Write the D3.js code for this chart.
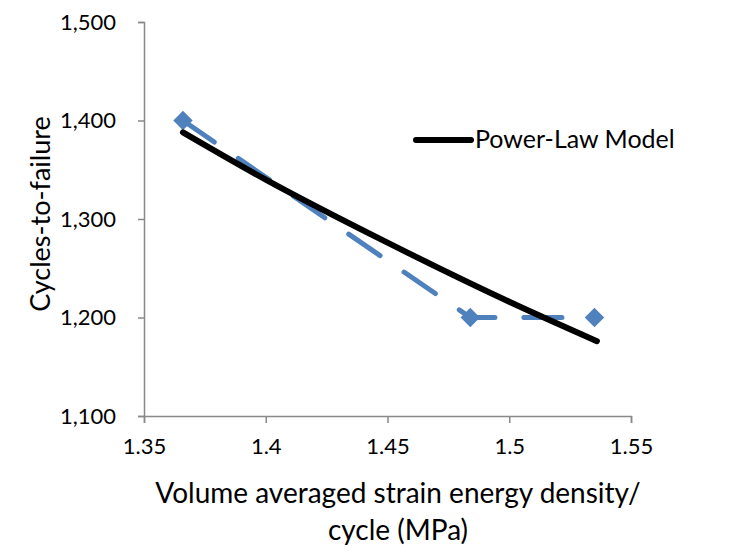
<!DOCTYPE html>
<html>
<head>
<meta charset="utf-8">
<script src="https://cdn.jsdelivr.net/npm/d3@7"></script>
<style>
  body { margin: 0; background: #fff; }
  text { font-family: Lato, "Open Sans", sans-serif; fill: #000; }
</style>
</head>
<body>
<div id="chart"></div>
<script>
// measured data (volume averaged strain energy density vs cycles)
var energy = [1.366, 1.484, 1.535];
var cycles = [1400, 1200, 1200];

// power-law model curve
var modelEnergy = [1.366, 1.4, 1.45, 1.5, 1.536];
var modelCycles = [1388, 1340, 1276, 1216, 1176];

var xTicks = [1.35, 1.4, 1.45, 1.5, 1.55];
var yTicks = [1100, 1200, 1300, 1400, 1500];

var width = 742,
  height = 556;

var axisColor = "#898989",
  blue = "#4f81bd";

var svg = d3.select("#chart")
  .append("svg")
  .attr("width", width)
  .attr("height", height);

// scales
var x = d3.scaleLinear().domain([1.35, 1.55]).range([144, 631]);
var y = d3.scaleLinear().domain([1100, 1500]).range([416, 22]);

// y axis
var yAxis = svg.append("g")
  .attr("transform", "translate(144,0)")
  .call(d3.axisLeft(y).tickValues(yTicks).tickSize(6).tickPadding(22)
    .tickFormat(d3.format(",")));

// x axis
var xAxis = svg.append("g")
  .attr("transform", "translate(0,416)")
  .call(d3.axisBottom(x).tickValues(xTicks).tickSize(7).tickPadding(15)
    .tickFormat(function(d) { return String(d); }));

[xAxis, yAxis].forEach(function(a) {
  a.select(".domain").attr("stroke", axisColor).attr("stroke-width", 1.5);
  a.selectAll(".tick line").attr("stroke", axisColor).attr("stroke-width", 1.5);
  a.selectAll(".tick text")
    .style("font-family", "Lato, sans-serif")
    .style("font-size", "22px")
    .attr("fill", "#000");
});

// dashed data series
var pts = energy.map(function(e, i) { return [e, cycles[i]]; });
var line = d3.line()
  .x(function(d) { return x(d[0]); })
  .y(function(d) { return y(d[1]); });

svg.append("path")
  .datum(pts)
  .attr("d", line)
  .attr("fill", "none")
  .attr("stroke", blue)
  .attr("stroke-width", 5)
  .attr("stroke-linecap", "round")
  .attr("stroke-dasharray", "38,29");

// diamond markers
svg.selectAll(".marker")
  .data(pts)
  .enter()
  .append("path")
  .attr("class", "marker")
  .attr("d", d3.symbol().type(d3.symbolDiamond2).size(240))
  .attr("transform", function(d) { return "translate(" + x(d[0]) + "," + y(d[1]) + ")"; })
  .attr("fill", blue);

// power-law model line
var model = modelEnergy.map(function(e, i) { return [e, modelCycles[i]]; });
svg.append("path")
  .datum(model)
  .attr("d", line.curve(d3.curveMonotoneX))
  .attr("fill", "none")
  .attr("stroke", "#000")
  .attr("stroke-width", 6)
  .attr("stroke-linecap", "round");

// legend
svg.append("line")
  .attr("x1", 416).attr("x2", 471)
  .attr("y1", 140).attr("y2", 140)
  .attr("stroke", "#000")
  .attr("stroke-width", 6)
  .attr("stroke-linecap", "round");
svg.append("text")
  .attr("x", 475)
  .attr("y", 148)
  .style("font-size", "25px")
  .text("Power-Law Model");

// axis titles
svg.append("text")
  .attr("x", 398)
  .attr("y", 503)
  .attr("text-anchor", "middle")
  .style("font-size", "28px")
  .text("Volume averaged strain energy density/");
svg.append("text")
  .attr("x", 398)
  .attr("y", 540)
  .attr("text-anchor", "middle")
  .style("font-size", "28px")
  .text("cycle (MPa)");

svg.append("text")
  .attr("transform", "translate(50,214) rotate(-90)")
  .attr("text-anchor", "middle")
  .style("font-size", "27px")
  .text("Cycles-to-failure");
</script>
</body>
</html>
